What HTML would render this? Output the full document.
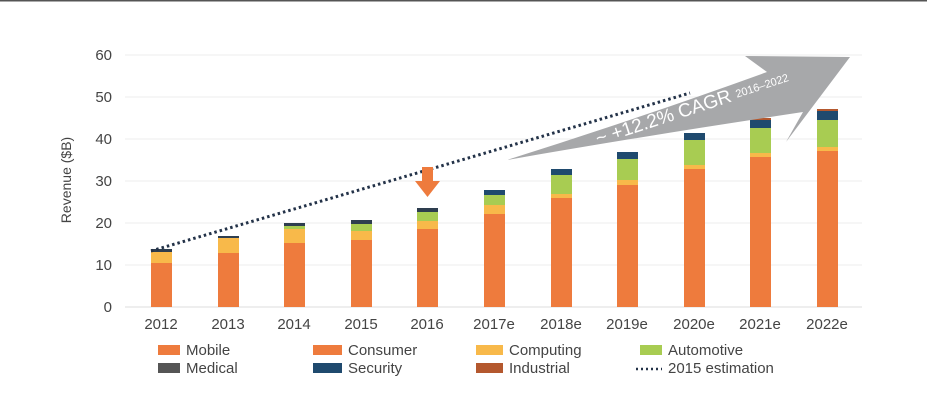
<!DOCTYPE html><html><head><style>body{margin:0;background:#fff}svg{display:block}</style></head><body>
<svg width="927" height="412" xmlns="http://www.w3.org/2000/svg" font-family="Liberation Sans, sans-serif">
<rect width="927" height="412" fill="#fff"/>
<line x1="0" y1="0.5" x2="927" y2="0.5" stroke="#555" stroke-width="2"/>
<g stroke="#ececec" stroke-width="1">
<line x1="125" x2="862" y1="55" y2="55"/><line x1="125" x2="862" y1="97" y2="97"/><line x1="125" x2="862" y1="139" y2="139"/><line x1="125" x2="862" y1="181" y2="181"/><line x1="125" x2="862" y1="223" y2="223"/><line x1="125" x2="862" y1="265" y2="265"/></g>
<line x1="125" x2="862" y1="307" y2="307" stroke="#ddd"/>
<g font-size="15" fill="#444" text-anchor="end">
<text x="112" y="60">60</text><text x="112" y="102">50</text><text x="112" y="144">40</text><text x="112" y="186">30</text><text x="112" y="228">20</text><text x="112" y="270">10</text><text x="112" y="312">0</text></g>
<text transform="translate(71,180) rotate(-90)" font-size="14" fill="#444" text-anchor="middle">Revenue ($B)</text>
<g>
<rect x="151" y="263" width="21" height="44" fill="#ee7b3d"/><rect x="151" y="252" width="21" height="11" fill="#f8b94a"/><rect x="151" y="249" width="21" height="3" fill="#2e3e4f"/>
<rect x="218" y="253" width="21" height="54" fill="#ee7b3d"/><rect x="218" y="238" width="21" height="15" fill="#f8b94a"/><rect x="218" y="236" width="21" height="2" fill="#2e3e4f"/>
<rect x="284" y="243" width="21" height="64" fill="#ee7b3d"/><rect x="284" y="229" width="21" height="14" fill="#f8b94a"/><rect x="284" y="226" width="21" height="3" fill="#a8cc52"/><rect x="284" y="223" width="21" height="3" fill="#2e3e4f"/>
<rect x="351" y="240" width="21" height="67" fill="#ee7b3d"/><rect x="351" y="231" width="21" height="9" fill="#f8b94a"/><rect x="351" y="224" width="21" height="7" fill="#a8cc52"/><rect x="351" y="220" width="21" height="4" fill="#2e3e4f"/>
<rect x="417" y="229" width="21" height="78" fill="#ee7b3d"/><rect x="417" y="221" width="21" height="8" fill="#f8b94a"/><rect x="417" y="212" width="21" height="9" fill="#a8cc52"/><rect x="417" y="208" width="21" height="4" fill="#2e3e4f"/>
<rect x="484" y="214" width="21" height="93" fill="#ee7b3d"/><rect x="484" y="205" width="21" height="9" fill="#f8b94a"/><rect x="484" y="195" width="21" height="10" fill="#a8cc52"/><rect x="484" y="190" width="21" height="5" fill="#1f4a6e"/>
<rect x="551" y="198" width="21" height="109" fill="#ee7b3d"/><rect x="551" y="194" width="21" height="4" fill="#f8b94a"/><rect x="551" y="175" width="21" height="19" fill="#a8cc52"/><rect x="551" y="169" width="21" height="6" fill="#1f4a6e"/>
<rect x="617" y="185" width="21" height="122" fill="#ee7b3d"/><rect x="617" y="180" width="21" height="5" fill="#f8b94a"/><rect x="617" y="159" width="21" height="21" fill="#a8cc52"/><rect x="617" y="152" width="21" height="7" fill="#1f4a6e"/>
<rect x="684" y="169" width="21" height="138" fill="#ee7b3d"/><rect x="684" y="165" width="21" height="4" fill="#f8b94a"/><rect x="684" y="140" width="21" height="25" fill="#a8cc52"/><rect x="684" y="133" width="21" height="7" fill="#1f4a6e"/>
<rect x="750" y="157" width="21" height="150" fill="#ee7b3d"/><rect x="750" y="153" width="21" height="4" fill="#f8b94a"/><rect x="750" y="128" width="21" height="25" fill="#a8cc52"/><rect x="750" y="120" width="21" height="8" fill="#1f4a6e"/><rect x="750" y="118" width="21" height="2" fill="#b4582e"/>
<rect x="817" y="151" width="21" height="156" fill="#ee7b3d"/><rect x="817" y="147" width="21" height="4" fill="#f8b94a"/><rect x="817" y="120" width="21" height="27" fill="#a8cc52"/><rect x="817" y="111" width="21" height="9" fill="#1f4a6e"/><rect x="817" y="109" width="21" height="2" fill="#b4582e"/>
</g>
<line x1="151" y1="251" x2="690" y2="93" stroke="#233248" stroke-width="3" stroke-dasharray="2.5 3"/>
<path d="M507,160 Q640,118 767,72 L745,56 L850,57 L786,142 L803,112 Q650,135 507,160 Z" fill="#a7a8aa"/>
<text transform="translate(598,145) rotate(-18)" fill="#fff" font-size="19">~ +12.2% CAGR <tspan font-size="11" dy="-2">2016–2022</tspan></text>
<path d="M422,167 h11 v14 h7 l-12.5,16 l-12.5,-16 h7 Z" fill="#ee7b3d"/>
<g font-size="15" fill="#444" text-anchor="middle">
<text x="161" y="329">2012</text><text x="228" y="329">2013</text><text x="294" y="329">2014</text><text x="361" y="329">2015</text><text x="427" y="329">2016</text><text x="494" y="329">2017e</text><text x="561" y="329">2018e</text><text x="627" y="329">2019e</text><text x="694" y="329">2020e</text><text x="760" y="329">2021e</text><text x="827" y="329">2022e</text></g>
<g font-size="15" fill="#444">
<rect x="158" y="345" width="22" height="10" fill="#ee7b3d"/><text x="186" y="355">Mobile</text>
<rect x="313" y="345" width="29" height="10" fill="#ee7b3d"/><text x="348" y="355">Consumer</text>
<rect x="476" y="345" width="27" height="10" fill="#f8b94a"/><text x="509" y="355">Computing</text>
<rect x="640" y="345" width="22" height="10" fill="#a8cc52"/><text x="668" y="355">Automotive</text>
<rect x="158" y="363" width="22" height="10" fill="#555"/><text x="186" y="373">Medical</text>
<rect x="313" y="363" width="29" height="10" fill="#1f4a6e"/><text x="348" y="373">Security</text>
<rect x="476" y="363" width="27" height="10" fill="#b4582e"/><text x="509" y="373">Industrial</text>
<line x1="636" y1="369" x2="662" y2="369" stroke="#233248" stroke-width="2.5" stroke-dasharray="2 3"/><text x="668" y="373">2015 estimation</text>
</g>
</svg></body></html>
